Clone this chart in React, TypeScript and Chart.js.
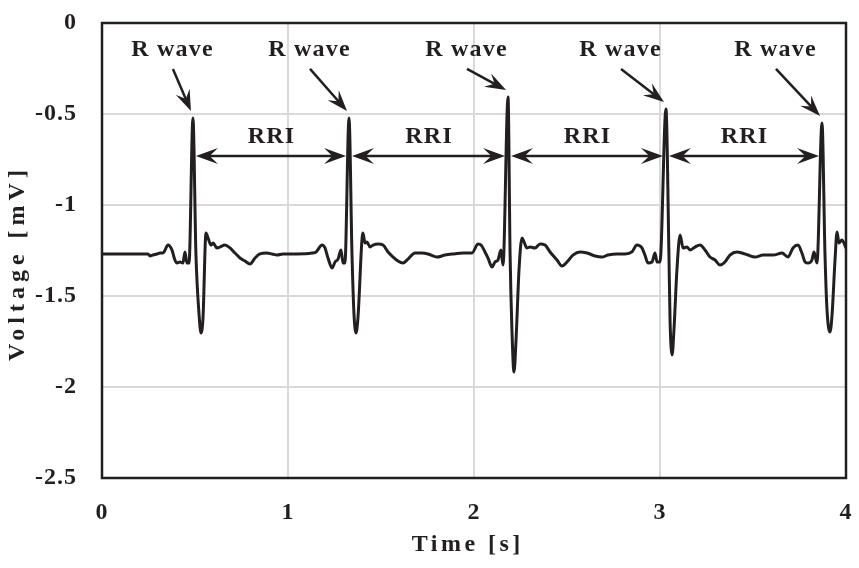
import { useEffect, useRef } from "react";
import { Chart, registerables } from "chart.js";

Chart.register(...registerables);

// ECG trace (time in s, voltage in mV)
const timeS = [
  0, 0.247, 0.258, 0.274, 0.296, 0.312, 0.328, 0.355, 0.376, 0.392, 0.403, 0.419, 0.435, 0.446, 0.457, 0.468,
  0.489, 0.505, 0.522, 0.532, 0.543, 0.559, 0.57, 0.586, 0.597, 0.618, 0.634, 0.661, 0.688, 0.715, 0.742, 0.769,
  0.796, 0.823, 0.849, 0.887, 0.914, 0.941, 0.973, 1.011, 1.048, 1.129, 1.151, 1.183, 1.199, 1.215, 1.237, 1.253,
  1.269, 1.285, 1.296, 1.306, 1.328, 1.344, 1.355, 1.366, 1.376, 1.403, 1.414, 1.425, 1.441, 1.457, 1.484, 1.511,
  1.538, 1.565, 1.591, 1.618, 1.645, 1.683, 1.72, 1.753, 1.801, 1.844, 1.887, 1.941, 1.989, 2.022, 2.038, 2.059,
  2.075, 2.097, 2.113, 2.129, 2.145, 2.156, 2.183, 2.194, 2.204, 2.215, 2.226, 2.242, 2.258, 2.269, 2.285, 2.301,
  2.328, 2.355, 2.382, 2.409, 2.446, 2.473, 2.5, 2.532, 2.57, 2.608, 2.651, 2.688, 2.72, 2.769, 2.812, 2.849,
  2.876, 2.903, 2.919, 2.935, 2.957, 2.973, 2.984, 3.0, 3.032, 3.048, 3.054, 3.065, 3.075, 3.091, 3.108, 3.124,
  3.145, 3.161, 3.188, 3.215, 3.242, 3.269, 3.296, 3.323, 3.349, 3.376, 3.414, 3.441, 3.473, 3.511, 3.554, 3.608,
  3.656, 3.688, 3.715, 3.742, 3.763, 3.78, 3.796, 3.817, 3.828, 3.844, 3.871, 3.887, 3.898, 3.914, 3.925, 3.941,
  3.952, 3.962, 3.978, 4.0,
];
const voltageMv = [
  -1.269, -1.269, -1.28, -1.275, -1.269, -1.264, -1.264, -1.22, -1.247, -1.302, -1.319, -1.313, -1.319, -1.258, -1.319, -1.319,
  -0.522, -1.269, -1.604, -1.703, -1.621, -1.154, -1.181, -1.22, -1.209, -1.236, -1.231, -1.22, -1.236, -1.264, -1.291, -1.308,
  -1.324, -1.291, -1.269, -1.264, -1.269, -1.275, -1.269, -1.269, -1.269, -1.264, -1.258, -1.22, -1.236, -1.291, -1.346, -1.313,
  -1.297, -1.247, -1.319, -1.319, -0.522, -1.269, -1.604, -1.703, -1.621, -1.154, -1.209, -1.203, -1.231, -1.22, -1.214, -1.22,
  -1.258, -1.286, -1.308, -1.319, -1.297, -1.264, -1.264, -1.269, -1.286, -1.275, -1.269, -1.264, -1.264, -1.214, -1.22, -1.258,
  -1.291, -1.341, -1.313, -1.302, -1.247, -1.33, -0.407, -1.269, -1.687, -1.918, -1.742, -1.357, -1.181, -1.203, -1.236, -1.231,
  -1.236, -1.214, -1.22, -1.258, -1.302, -1.335, -1.313, -1.275, -1.258, -1.264, -1.28, -1.286, -1.275, -1.269, -1.269, -1.258,
  -1.22, -1.236, -1.275, -1.319, -1.313, -1.264, -1.313, -1.313, -0.473, -1.269, -1.632, -1.824, -1.687, -1.357, -1.165, -1.236,
  -1.231, -1.247, -1.231, -1.22, -1.247, -1.286, -1.302, -1.33, -1.313, -1.275, -1.258, -1.264, -1.275, -1.286, -1.275, -1.275,
  -1.264, -1.286, -1.236, -1.22, -1.264, -1.313, -1.319, -1.302, -1.258, -1.319, -0.549, -1.269, -1.577, -1.698, -1.604, -1.302,
  -1.148, -1.209, -1.192, -1.236,
];

// R-wave peaks (annotation anchors)
const rPeakTimes = [0.489, 1.328, 2.183, 3.032, 3.871];
const rPeakVolts = [-0.522, -0.522, -0.407, -0.473, -0.549];
const rLabelTimes = [0.376, 1.113, 1.957, 2.785, 3.618];
const rLabelVolt = -0.148;
const rLabelText = "R wave";
const rriText = "RRI";
const rriArrowVolt = -0.731;
const rriLabelVolt = -0.626;

const xTicks = [0, 1, 2, 3, 4];
const yTicks = [0, -0.5, -1, -1.5, -2, -2.5];
const xTitle = "Time [s]";
const yTitle = "Voltage [mV]";

const INK = "#231f20";
const FONT_FAMILY = "'Liberation Serif', 'Times New Roman', serif";

function drawHead(ctx: CanvasRenderingContext2D, tx: number, ty: number, ang: number, len: number, half: number) {
  const c = Math.cos(ang), s = Math.sin(ang);
  ctx.beginPath();
  ctx.moveTo(tx, ty);
  ctx.lineTo(tx - c * len - s * half, ty - s * len + c * half);
  ctx.lineTo(tx - c * len * 0.62, ty - s * len * 0.62);
  ctx.lineTo(tx - c * len + s * half, ty - s * len - c * half);
  ctx.closePath();
  ctx.fill();
}

function spacedCentered(ctx: any, text: string, x: number, y: number, spacing: number) {
  ctx.letterSpacing = `${spacing}px`;
  const w = ctx.measureText(text).width;
  ctx.textAlign = "left";
  ctx.fillText(text, x - (w - spacing) / 2, y);
  ctx.textAlign = "center";
}

const annotationPlugin = {
  id: "ecgAnnotations",
  beforeDraw(chart: any) {
    chart.ctx.letterSpacing = "1px";
  },
  afterDatasetsDraw(chart: any) {
    const { ctx, chartArea, scales } = chart;
    const xs = scales.x, ys = scales.y;
    ctx.save();
    // frame
    ctx.strokeStyle = INK;
    ctx.lineWidth = 2.5;
    ctx.strokeRect(chartArea.left, chartArea.top, chartArea.right - chartArea.left, chartArea.bottom - chartArea.top);

    ctx.fillStyle = INK;
    ctx.strokeStyle = INK;
    ctx.lineWidth = 2.5;
    ctx.font = `bold 24px ${FONT_FAMILY}`;
    ctx.textAlign = "center";
    ctx.textBaseline = "middle";

    // R wave labels and arrows
    rPeakTimes.forEach((t, i) => {
      const px = xs.getPixelForValue(t);
      const py = ys.getPixelForValue(rPeakVolts[i]);
      const lx = xs.getPixelForValue(rLabelTimes[i]);
      const ly = ys.getPixelForValue(rLabelVolt);
      spacedCentered(ctx, rLabelText, lx, ly, 1.2);
      const tx = lx + 1, ty = ly + 19;
      const hx = px - 2, hy = py - 7;
      const ang = Math.atan2(hy - ty, hx - tx);
      ctx.beginPath();
      ctx.moveTo(tx, ty);
      ctx.lineTo(hx - Math.cos(ang) * 12, hy - Math.sin(ang) * 12);
      ctx.stroke();
      drawHead(ctx, hx, hy, ang, 21, 7.5);
    });

    // RRI arrows
    const ay = ys.getPixelForValue(rriArrowVolt);
    const ly = ys.getPixelForValue(rriLabelVolt);
    for (let i = 0; i < rPeakTimes.length - 1; i++) {
      const x1 = xs.getPixelForValue(rPeakTimes[i]) + 3;
      const x2 = xs.getPixelForValue(rPeakTimes[i + 1]) - 3;
      ctx.beginPath();
      ctx.moveTo(x1 + 12, ay);
      ctx.lineTo(x2 - 12, ay);
      ctx.stroke();
      drawHead(ctx, x1, ay, Math.PI, 22, 8);
      drawHead(ctx, x2, ay, 0, 22, 8);
      spacedCentered(ctx, rriText, (x1 + x2) / 2, ly, 1.2);
    }

    // axis titles (spaced like the original)
    const xMid = (chartArea.left + chartArea.right) / 2 - 8;
    spacedCentered(ctx, xTitle, xMid, 545, 3.5);
    ctx.save();
    ctx.translate(18, (chartArea.top + chartArea.bottom) / 2 + 15);
    ctx.rotate(-Math.PI / 2);
    spacedCentered(ctx, yTitle, 0, 0, 5);
    ctx.restore();
    ctx.restore();
  },
};

export default function App() {
  const ref = useRef<HTMLCanvasElement | null>(null);
  useEffect(() => {
    document.body.style.margin = "0";
    const canvas = ref.current;
    if (!canvas) return;
    const points = timeS.map((t, i) => ({ x: t, y: voltageMv[i] }));
    const tickFont = { family: FONT_FAMILY, size: 24, weight: "bold" as const };
    const chart = new Chart(canvas, {
      type: "line",
      data: {
        datasets: [
          {
            data: points,
            borderColor: INK,
            borderWidth: 3,
            pointRadius: 0,
            fill: false,
            cubicInterpolationMode: "monotone",
          },
        ],
      },
      options: {
        animation: false,
        responsive: false,
        events: [],
        layout: { padding: { top: 23, right: 13, left: 0, bottom: 0 } },
        plugins: { legend: { display: false }, tooltip: { enabled: false } },
        scales: {
          x: {
            type: "linear",
            min: 0,
            max: 4,
            afterBuildTicks: (scale: any) => {
              scale.ticks = xTicks.map((v) => ({ value: v }));
            },
            afterFit: (scale: any) => {
              scale.height = 90;
            },
            ticks: {
              color: INK,
              font: tickFont,
              padding: 0,
              maxRotation: 0,
              callback: (v: any) => String(v),
            },
            grid: { color: "#d9d9d9", lineWidth: 2, drawTicks: true, tickLength: 20, tickColor: "rgba(0,0,0,0)" },
            border: { display: false },
            title: { display: false, text: xTitle },
          },
          y: {
            type: "linear",
            min: -2.5,
            max: 0,
            afterBuildTicks: (scale: any) => {
              scale.ticks = yTicks.map((v) => ({ value: v }));
            },
            afterFit: (scale: any) => {
              scale.width = 102;
            },
            ticks: {
              color: INK,
              font: tickFont,
              padding: 0,
              callback: (v: any) => String(v),
            },
            grid: { color: "#d9d9d9", lineWidth: 2, drawTicks: true, tickLength: 25, tickColor: "rgba(0,0,0,0)" },
            border: { display: false },
            title: { display: false, text: yTitle },
          },
        },
      },
      plugins: [annotationPlugin],
    });
    return () => chart.destroy();
  }, []);
  return (
    <div style={{ width: 859, height: 568 }}>
      <canvas ref={ref} width={859} height={568} style={{ display: "block" }} />
    </div>
  );
}
